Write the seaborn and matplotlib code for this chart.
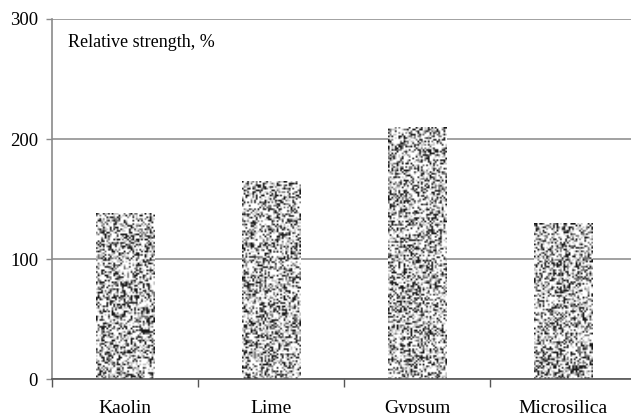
import numpy as np
import pandas as pd
import matplotlib
matplotlib.use("Agg")
import matplotlib.pyplot as plt
import seaborn as sns

categories = ["Kaolin", "Lime", "Gypsum", "Microsilica"]
values = [138, 165, 210, 130]
yticks = [0, 100, 200, 300]
ylabel_text = "Relative strength, %"

sns.set_theme(style="white")
plt.rcParams["font.family"] = ["Liberation Serif", "DejaVu Serif"]

df = pd.DataFrame({"cat": categories, "val": values})

fig = plt.figure(figsize=(6.31, 4.13), dpi=100)
ax = fig.add_axes([52 / 631, 1 - 379 / 413, 584 / 631, (379 - 19) / 413])

sns.barplot(data=df, x="cat", y="val", ax=ax, width=0.4, color="white",
            edgecolor="none", linewidth=0, zorder=3)

ax.set_ylim(0, 300)
ax.set_xlim(-0.5, 3.5)
ax.set_yticks(yticks)
ax.yaxis.grid(True, color="#9a9a9a", linewidth=1.3, zorder=1)
ax.set_axisbelow(True)
ax.set_xlabel("")
ax.set_ylabel("")

# Speckled texture inside each bar
rng = np.random.default_rng(3)
fig.canvas.draw()
for p in ax.patches:
    x0, y0, w, h = p.get_x(), p.get_y(), p.get_width(), p.get_height()
    (px0, py0) = ax.transData.transform((x0, y0))
    (px1, py1) = ax.transData.transform((x0 + w, y0 + h))
    nx = max(2, int(abs(px1 - px0) / 1.7))
    ny = max(2, int(abs(py1 - py0) / 1.7))
    r = rng.random((ny, nx))
    img = np.where(r < 0.20, 0.1, np.where(r < 0.36, 0.45, np.where(r < 0.52, 0.78, 1.0)))
    im = ax.imshow(img, cmap="gray", vmin=0, vmax=1, extent=(x0, x0 + w, y0, y0 + h),
                   interpolation="bilinear", aspect="auto", zorder=4)
    im.set_clip_path(p)
ax.set_xlim(-0.5, 3.5)
ax.set_ylim(0, 300)

for s in ["top", "right"]:
    ax.spines[s].set_visible(False)
ax.spines["left"].set_color("#8a8a8a")
ax.spines["left"].set_linewidth(1.2)
ax.spines["bottom"].set_color("#555555")
ax.spines["bottom"].set_linewidth(1.2)
ax.spines["bottom"].set_zorder(5)

ax.set_xticks(range(len(categories)))
ax.set_xticklabels(categories, fontsize=14, color="black")
ax.tick_params(axis="x", which="major", length=0, pad=15)
ax.set_xticks([-0.5, 0.5, 1.5, 2.5, 3.5], minor=True)
ax.tick_params(axis="x", which="minor", length=6, width=1.0, color="#555555", direction="out", bottom=True)
ax.tick_params(axis="y", which="major", length=4, width=1.0, color="#8a8a8a", direction="out",
               left=True, labelsize=13.5, labelcolor="black", pad=6)

ax.text(-0.39, 280, ylabel_text, fontsize=13, color="black", va="center", ha="left")

fig.savefig("out.png", dpi=100)
